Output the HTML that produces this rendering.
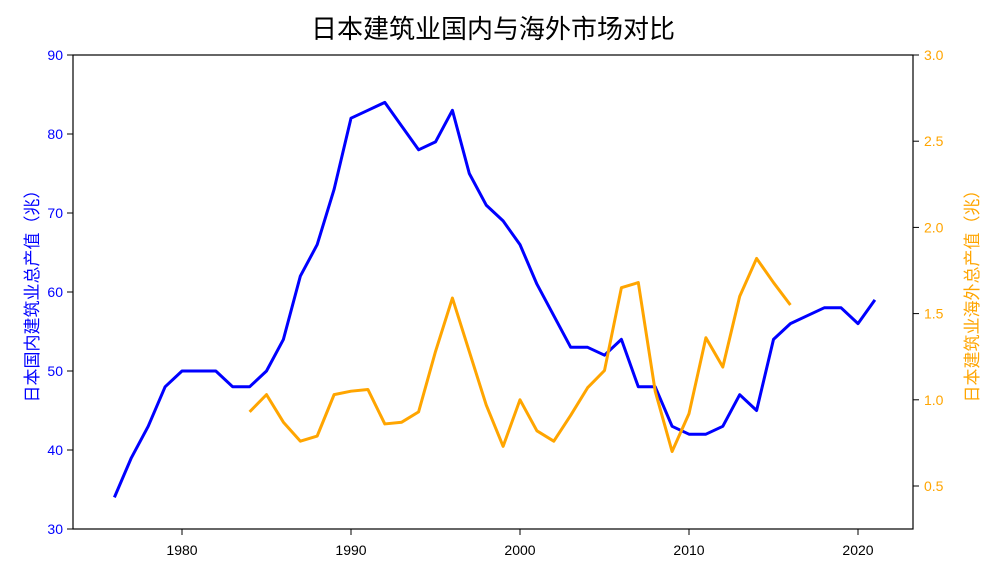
<!DOCTYPE html>
<html><head><meta charset="utf-8">
<style>
body{margin:0;background:#fff;}
svg text{font-family:"Liberation Sans","Noto Sans CJK SC",sans-serif;}
</style></head>
<body>
<svg id="chart" width="1000" height="575" xmlns="http://www.w3.org/2000/svg">
<text x="493" y="38" text-anchor="middle" font-size="26" fill="#000">日本建筑业国内与海外市场对比</text>
<g id="axes"></g>
<g id="series"></g>
<rect x="73" y="55" width="840" height="474" fill="none" stroke="#000" stroke-width="1.2"/>
<text transform="translate(38,292) rotate(-90)" text-anchor="middle" font-size="17" fill="#0000ff">日本国内建筑业总产值（兆）</text>
<text transform="translate(978,292) rotate(-90)" text-anchor="middle" font-size="17" fill="#ffa500">日本建筑业海外总产值（兆）</text>
</svg>
<script>
const domesticYears=[1976,1977,1978,1979,1980,1981,1982,1983,1984,1985,1986,1987,1988,1989,1990,1991,1992,1993,1994,1995,1996,1997,1998,1999,2000,2001,2002,2003,2004,2005,2006,2007,2008,2009,2010,2011,2012,2013,2014,2015,2016,2017,2018,2019,2020,2021];
const domesticValues=[34,39,43,48,50,50,50,48,48,50,54,62,66,73,82,83,84,81,78,79,83,75,71,69,66,61,57,53,53,52,54,48,48,43,42,42,43,47,45,54,56,57,58,58,56,59];
const overseasYears=[1984,1985,1986,1987,1988,1989,1990,1991,1992,1993,1994,1995,1996,1997,1998,1999,2000,2001,2002,2003,2004,2005,2006,2007,2008,2009,2010,2011,2012,2013,2014,2015,2016];
const overseasValues=[0.93,1.03,0.87,0.76,0.79,1.03,1.05,1.06,0.86,0.87,0.93,1.28,1.59,1.28,0.97,0.73,1.0,0.82,0.76,0.91,1.07,1.17,1.65,1.68,1.05,0.70,0.92,1.36,1.19,1.60,1.82,1.68,1.55];
const xTicks=[1980,1990,2000,2010,2020];
const leftTicks=[30,40,50,60,70,80,90];
const rightTicks=["0.5","1.0","1.5","2.0","2.5","3.0"];

const NS="http://www.w3.org/2000/svg";
const X=y=>182+(y-1980)*(676/40);
const YL=v=>529-(v-30)*(474/60);
const YR=v=>486-(v-0.5)*(431/2.5);
const axes=document.getElementById('axes');
const ser=document.getElementById('series');
function mk(tag,attrs,parent){const e=document.createElementNS(NS,tag);for(const k in attrs)e.setAttribute(k,attrs[k]);parent.appendChild(e);return e;}

xTicks.forEach(t=>{
  const l=mk('line',{x1:X(t),x2:X(t),y1:529,y2:535,stroke:'#000'},axes);
  
  
  const tx=mk('text',{x:X(t),y:555,'text-anchor':'middle','font-size':14,fill:'#000'},axes);
  tx.textContent=t;
  
  
});
leftTicks.forEach(t=>{
  const l=mk('line',{x1:67,x2:73,y1:YL(t),y2:YL(t),stroke:'#000'},axes);
  
  
  const tx=mk('text',{x:63,y:YL(t)+5,'text-anchor':'end','font-size':14,fill:'#0000ff'},axes);
  tx.textContent=t;
  
  
});
rightTicks.forEach(t=>{
  const v=parseFloat(t);
  const l=mk('line',{x1:913,x2:919,y1:YR(v),y2:YR(v),stroke:'#000'},axes);
  
  
  const tx=mk('text',{x:924,y:YR(v)+5,'text-anchor':'start','font-size':14,fill:'#ffa500'},axes);
  tx.textContent=t;
  
  
});
const p1=mk('polyline',{points:domesticYears.map((y,i)=>X(y)+','+YL(domesticValues[i])).join(' '),fill:'none',stroke:'#0000ff','stroke-width':3,'stroke-linejoin':'round'},ser);


const p2=mk('polyline',{points:overseasYears.map((y,i)=>X(y)+','+YR(overseasValues[i])).join(' '),fill:'none',stroke:'#ffa500','stroke-width':3,'stroke-linejoin':'round'},ser);


</script>
</body></html>
